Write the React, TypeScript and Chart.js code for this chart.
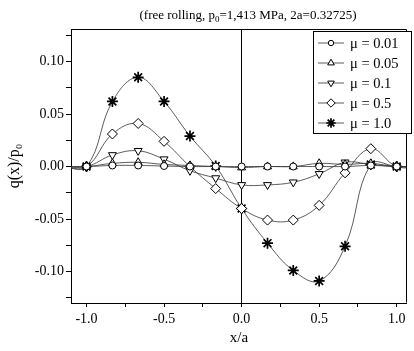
import React, { useEffect, useRef } from 'react';
import { Chart, registerables } from 'chart.js';
import { drawPoint } from 'chart.js/helpers';

Chart.register(...registerables);

// x/a positions (the outermost two only carry the lines to the frame)
const xValues = [-1.167, -1.0, -0.833, -0.667, -0.5, -0.333, -0.167, 0, 0.167, 0.333, 0.5, 0.667, 0.833, 1.0, 1.167];

const seriesLabels = ['μ = 0.01', 'μ = 0.05', 'μ = 0.1', 'μ = 0.5', 'μ = 1.0'];
const mu001 = [0, 0, 0.001, 0.001, 0.0005, 0, 0, 0, 0, 0, 0, 0, 0.001, 0, 0];
const mu005 = [0, 0, 0.003, 0.004, 0.002, 0.001, 0, -0.001, 0, 0, 0.003, 0.002, 0.003, 0, 0];
const mu01 = [0, 0, 0.011, 0.015, 0.007, -0.004, -0.011, -0.0175, -0.0175, -0.015, -0.007, 0.004, 0.002, 0, 0];
const mu05 = [0, 0, 0.031, 0.041, 0.024, 0.0, -0.021, -0.04, -0.051, -0.051, -0.037, -0.006, 0.017, 0, 0];
const mu10 = [0, 0, 0.062, 0.085, 0.062, 0.029, 0.0005, -0.04, -0.073, -0.099, -0.109, -0.076, 0.002, 0, 0];

const xTickValues = [-1.0, -0.75, -0.5, -0.25, 0, 0.25, 0.5, 0.75, 1.0];
const yTickValues = [-0.125, -0.1, -0.075, -0.05, -0.025, 0, 0.025, 0.05, 0.075, 0.1, 0.125];

const titleBefore = '(free rolling, p';
const titleSub = '0';
const titleAfter = '=1,413 MPa, 2a=0.32725)';
const xAxisTitle = 'x/a';
const yAxisTitle = 'q(x)/p₀';

const SERIF = '"Liberation Serif", "Times New Roman", serif';

const markerStyles = [
  { pointStyle: 'circle', rotation: 0, radius: 3.5, borderWidth: 1 },
  { pointStyle: 'triangle', rotation: 0, radius: 4.6, borderWidth: 1 },
  { pointStyle: 'triangle', rotation: 180, radius: 4.6, borderWidth: 1 },
  { pointStyle: 'rectRot', rotation: 0, radius: 5, borderWidth: 1 },
  { pointStyle: 'star', rotation: 0, radius: 5.5, borderWidth: 1.7 },
];

const seriesValues = [mu001, mu005, mu01, mu05, mu10];

const framePlugin = {
  id: 'frame',
  afterDraw(chart: any) {
    const { ctx, chartArea } = chart;
    ctx.save();
    ctx.strokeStyle = '#000';
    ctx.lineWidth = 1;
    ctx.beginPath();
    ctx.moveTo(Math.round(chartArea.left) + 0.5, Math.round(chartArea.top) + 0.5);
    ctx.lineTo(Math.round(chartArea.right) - 0.5, Math.round(chartArea.top) + 0.5);
    ctx.lineTo(Math.round(chartArea.right) - 0.5, Math.round(chartArea.bottom) - 0.5);
    ctx.stroke();
    ctx.restore();
  },
};

const titlePlugin = {
  id: 'subTitle',
  afterDraw(chart: any) {
    const { ctx } = chart;
    ctx.save();
    ctx.fillStyle = '#000';
    ctx.textBaseline = 'alphabetic';
    ctx.textAlign = 'left';
    const big = `13px ${SERIF}`;
    const small = `9px ${SERIF}`;
    ctx.font = big;
    const w1 = ctx.measureText(titleBefore).width;
    const w3 = ctx.measureText(titleAfter).width;
    ctx.font = small;
    const w2 = ctx.measureText(titleSub).width;
    const total = w1 + w2 + w3;
    const cx = 248;
    let x = cx - total / 2;
    const base = 19;
    ctx.font = big;
    ctx.fillText(titleBefore, x, base);
    x += w1;
    ctx.font = small;
    ctx.fillText(titleSub, x, base + 3);
    x += w2;
    ctx.font = big;
    ctx.fillText(titleAfter, x, base);
    ctx.restore();
  },
};

const legendPlugin = {
  id: 'boxLegend',
  afterDraw(chart: any) {
    const { ctx } = chart;
    const left = 313.5;
    const top = 31.5;
    const w = 98;
    const h = 102;
    ctx.save();
    ctx.fillStyle = '#fff';
    ctx.fillRect(left, top, w, h);
    ctx.strokeStyle = '#000';
    ctx.lineWidth = 1;
    ctx.strokeRect(left, top, w, h);
    chart.data.datasets.forEach((ds: any, i: number) => {
      const y = 43 + i * 20;
      ctx.strokeStyle = '#333';
      ctx.lineWidth = 0.8;
      ctx.beginPath();
      ctx.moveTo(318, y);
      ctx.lineTo(344, y);
      ctx.stroke();
      const m = markerStyles[i];
      ctx.fillStyle = '#fff';
      ctx.strokeStyle = '#000';
      ctx.lineWidth = m.borderWidth;
      drawPoint(ctx, { pointStyle: m.pointStyle, rotation: m.rotation, radius: m.radius - 0.8, borderWidth: m.borderWidth } as any, 331, y);
      ctx.fillStyle = '#000';
      ctx.font = `14.5px ${SERIF}`;
      ctx.textBaseline = 'middle';
      ctx.textAlign = 'left';
      ctx.fillText(ds.label, 350, y + 1);
    });
    ctx.restore();
  },
};

export default function App() {
  const canvasRef = useRef<HTMLCanvasElement | null>(null);

  useEffect(() => {
    const canvas = canvasRef.current;
    if (!canvas) return;
    const datasets = seriesValues.map((vals, i) => ({
      label: seriesLabels[i],
      data: xValues.map((x, j) => ({ x, y: vals[j] })),
      borderColor: '#333',
      borderWidth: 0.8,
      backgroundColor: '#fff',
      pointBackgroundColor: '#fff',
      pointBorderColor: '#000',
      pointStyle: markerStyles[i].pointStyle,
      pointRotation: markerStyles[i].rotation,
      pointRadius: markerStyles[i].radius,
      pointBorderWidth: markerStyles[i].borderWidth,
      pointHoverRadius: markerStyles[i].radius,
      tension: 0.4,
      fill: false,
    }));

    const chart = new Chart(canvas, {
      type: 'line',
      data: { datasets },
      options: {
        responsive: false,
        animation: false,
        events: [],
        layout: { padding: { top: 29, right: 1, left: 0, bottom: 0 } },
        plugins: {
          legend: { display: false },
          title: { display: false },
          tooltip: { enabled: false },
        },
        scales: {
          x: {
            type: 'linear',
            min: -1.1,
            max: 1.065,
            afterBuildTicks: (scale: any) => {
              scale.ticks = xTickValues.map((v) => ({ value: v }));
            },
            afterFit: (scale: any) => {
              scale.height = 48;
            },
            ticks: {
              autoSkip: false,
              maxRotation: 0,
              padding: 4,
              color: '#000',
              font: { family: SERIF, size: 14 },
              callback: (v: any) => {
                const n = Number(v);
                return Math.abs(Math.round(n * 100)) % 50 === 0 ? n.toFixed(1) : '';
              },
            },
            grid: {
              drawOnChartArea: true,
              color: (ctx: any) => (ctx.tick && Math.abs(ctx.tick.value) < 1e-9 ? '#000' : 'rgba(0,0,0,0)'),
              lineWidth: 1,
              tickColor: '#000',
              tickLength: 4,
            },
            border: { display: true, color: '#000', width: 1 },
            title: {
              display: true,
              text: xAxisTitle,
              color: '#000',
              font: { family: SERIF, size: 15 },
              padding: { top: 0, bottom: 4 },
            },
          },
          y: {
            type: 'linear',
            min: -0.13,
            max: 0.131,
            afterBuildTicks: (scale: any) => {
              scale.ticks = yTickValues.map((v) => ({ value: v }));
            },
            afterFit: (scale: any) => {
              scale.width = 71;
            },
            ticks: {
              autoSkip: false,
              padding: 2,
              color: '#000',
              font: { family: SERIF, size: 14 },
              callback: (v: any) => {
                const n = Number(v);
                if (Math.abs(Math.round(n * 1000)) % 50 !== 0) return '';
                if (Math.abs(n) < 1e-9) return '0.00';
                return n.toFixed(2);
              },
            },
            grid: {
              drawOnChartArea: false,
              tickColor: '#000',
              tickLength: 5,
            },
            border: { display: true, color: '#000', width: 1 },
            title: {
              display: true,
              text: yAxisTitle,
              color: '#000',
              font: { family: SERIF, size: 16 },
              padding: { top: 5, bottom: 0 },
            },
          },
        },
      },
      plugins: [framePlugin, titlePlugin, legendPlugin],
    } as any);

    return () => {
      chart.destroy();
    };
  }, []);

  return (
    <div style={{ position: 'absolute', left: 0, top: 0, width: 414, height: 351, background: '#fff' }}>
      <canvas ref={canvasRef} width={414} height={351} style={{ display: 'block', width: 414, height: 351 }} />
    </div>
  );
}
